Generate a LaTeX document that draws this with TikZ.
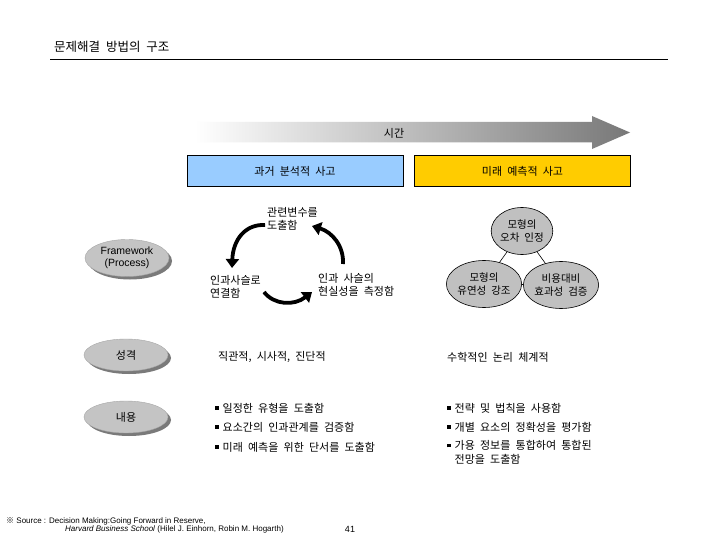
\documentclass[tikz,border=0pt]{standalone}
\usepackage{fontspec}
\setmainfont{Liberation Sans}
\newfontfamily\kr[WordSpace=2.1]{Noto Sans CJK KR}
\usetikzlibrary{arrows.meta,shapes.geometric}
\definecolor{boxblue}{HTML}{99CCFF}
\definecolor{boxyellow}{HTML}{FFCC00}
\definecolor{ellgray}{HTML}{C4C4C4}
\definecolor{shadowgray}{HTML}{7A7A7A}
\definecolor{circgray}{HTML}{C0C0C0}
\definecolor{arrowgray}{HTML}{787878}
\newcommand{\blt}{\rule[2.5pt]{3.5pt}{3.5pt}\hspace{4pt}}
\tikzset{
  krtext/.style={font=\kr\fontsize{11}{13.5}\selectfont, inner sep=0pt, align=left},
  headbox/.style={draw=black, line width=0.7pt, minimum width=216pt, minimum height=31pt, font=\kr\fontsize{11}{13}\selectfont, inner sep=0pt},
  grayell/.style={ellipse, fill=ellgray, draw=gray!70, line width=0.4pt, minimum width=84pt, inner sep=0pt},
  shadowell/.style={ellipse, fill=shadowgray, minimum width=84pt, inner sep=0pt},
  circ/.style={ellipse, fill=circgray, draw=black, line width=0.6pt, minimum width=58pt, minimum height=47pt, inner sep=0pt, align=center, font=\kr\fontsize{10.5}{13.5}\selectfont},
  cyclearrow/.style={line width=3.8pt, -{Triangle[length=9pt,width=13pt]}},
}
\begin{document}
\begin{tikzpicture}[x=1pt,y=-1pt]
\useasboundingbox[fill=white] (0,0) rectangle (720,540);

% title
\node[anchor=west, inner sep=0pt, font=\kr\fontsize{12.5}{14}\selectfont] (title) at (54,47) {문제해결 방법의 구조};
\draw[line width=0.8pt] (50,59) -- (668,59);

% time arrow
\shade[left color=white, right color=arrowgray]
  (195,122) -- (592,122) -- (592,116) -- (630,132.5) -- (592,149) -- (592,142.5) -- (195,142.5) -- cycle;
\node[krtext] (time) at (394,133) {시간};

% header boxes
\node[headbox, fill=boxblue] (past) at (295,171) {과거 분석적 사고};
\node[headbox, fill=boxyellow] (future) at (522.5,171) {미래 예측적 사고};

% left ellipses
\node[shadowell, minimum height=37pt] at (130,261) {};
\node[grayell, minimum height=37pt, font=\fontsize{10.5}{12.5}\selectfont, align=center] (frame) at (127,258) {Framework\\(Process)};
\node[shadowell, minimum height=32pt] at (129,358) {};
\node[grayell, minimum height=32pt, font=\kr\fontsize{11}{12}\selectfont] (char) at (126,355) {성격};
\node[shadowell, minimum height=32pt] at (129,420) {};
\node[grayell, minimum height=32pt, font=\kr\fontsize{11}{12}\selectfont] (cont) at (126,417) {내용};

% cycle
\node[krtext, anchor=north west] (c1) at (267,207) {관련변수를\\도출함};
\node[krtext, anchor=north west] (c2) at (210,275) {인과사슬로\\연결함};
\node[krtext, anchor=north west] (c3) at (318,273) {인과 사슬의\\현실성을 측정함};
\coordinate (a1s) at (265,225);
\coordinate (a1e) at (232,268);
\coordinate (a2s) at (264,292);
\coordinate (a2e) at (312,292);
\coordinate (a3s) at (343,264);
\coordinate (a3e) at (312,226);
\draw[cyclearrow] (a1s) .. controls (245,224) and (233,240) .. (a1e);
\draw[cyclearrow] (a2s) .. controls (274,305) and (294,306) .. (a2e);
\draw[cyclearrow] (a3s) .. controls (344,246) and (332,232) .. (a3e);

% circles
\coordinate (ct) at (522,231);
\coordinate (cl) at (484,284);
\coordinate (cr) at (561,285);
\draw[line width=0.6pt] (ct) -- (cl) -- (cr) -- cycle;
\node[circ] (top) at (ct) {모형의\\오차 인정};
\node[circ] (bl) at (cl) {모형의\\유연성 강조};
\node[circ] (br) at (cr) {비용대비\\효과성 검증};

% character row
\node[krtext, anchor=west] (p1) at (218,357) {직관적, 시사적, 진단적};
\node[krtext, anchor=west] (f1) at (447,357) {수학적인 논리 체계적};

% content row
\node[krtext, anchor=west] (p2) at (215,408) {\blt 일정한 유형을 도출함};
\node[krtext, anchor=west] (p3) at (215,427) {\blt 요소간의 인과관계를 검증함};
\node[krtext, anchor=west] (p4) at (215,447) {\blt 미래 예측을 위한 단서를 도출함};
\node[krtext, anchor=west] (f2) at (447,408) {\blt 전략 및 법칙을 사용함};
\node[krtext, anchor=west] (f3) at (447,427) {\blt 개별 요소의 정확성을 평가함};
\node[krtext, anchor=north west] (f4) at (447,440.5) {\blt 가용 정보를 통합하여 통합된\\\hspace*{7.5pt}전망을 도출함};

% footer
\node[anchor=west, inner sep=0pt, font=\fontsize{8}{9}\selectfont] (src1) at (6,521) {{\kr ※} Source : Decision Making:Going Forward in Reserve,};
\node[anchor=west, inner sep=0pt, font=\fontsize{8}{9}\selectfont] (src2) at (65,529.5) {\textit{Harvard Business School} (Hilel J. Einhorn, Robin M. Hogarth)};
\node[inner sep=0pt, font=\fontsize{9}{10}\selectfont] (page) at (350,529.5) {41};
\end{tikzpicture}
\end{document}
